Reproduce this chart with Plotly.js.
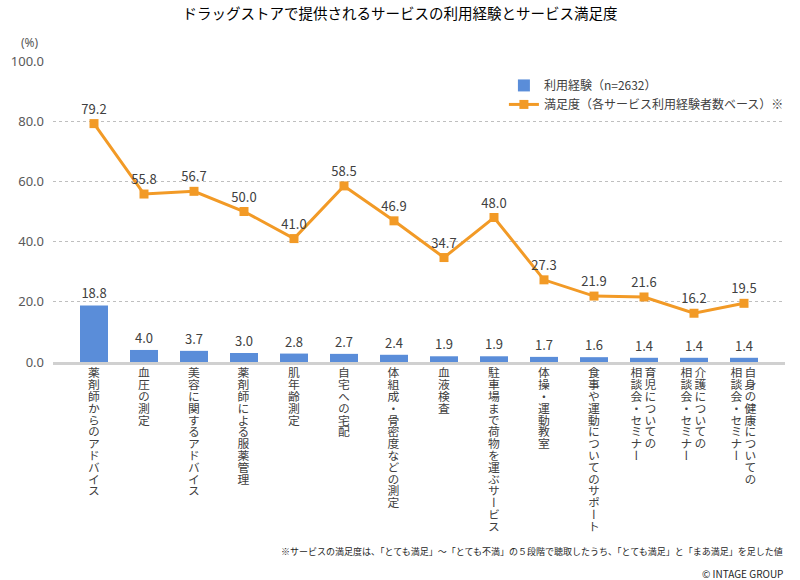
<!DOCTYPE html>
<html>
<head>
<meta charset="utf-8">
<script src="https://cdn.plot.ly/plotly-3.0.1.min.js"></script>
<style>html,body{margin:0;padding:0;background:#fff;}#chart{width:800px;height:580px;}</style>
</head>
<body>
<div id="chart"></div>
<script>
// ---- data ----
const labelLines = [
  ["薬剤師からのアドバイス"],
  ["血圧の測定"],
  ["美容に関するアドバイス"],
  ["薬剤師による服薬管理"],
  ["肌年齢測定"],
  ["自宅への宅配"],
  ["体組成・骨密度などの測定"],
  ["血液検査"],
  ["駐車場まで荷物を運ぶサービス"],
  ["体操・運動教室"],
  ["食事や運動についてのサポート"],
  ["育児についての", "相談会・セミナー"],
  ["介護についての", "相談会・セミナー"],
  ["自身の健康についての", "相談会・セミナー"]
];
const categories = labelLines.map(l => l.join(""));
const experience = [18.8, 4.0, 3.7, 3.0, 2.8, 2.7, 2.4, 1.9, 1.9, 1.7, 1.6, 1.4, 1.4, 1.4];
const satisfaction = [79.2, 55.8, 56.7, 50.0, 41.0, 58.5, 46.9, 34.7, 48.0, 27.3, 21.9, 21.6, 16.2, 19.5];
const seriesNames = ["利用経験（n=2632）", "満足度（各サービス利用経験者数ベース）※"];
const yTicks = [0, 20, 40, 60, 80, 100];
const titleText = "ドラッグストアで提供されるサービスの利用経験とサービス満足度";
const noteText = "※サービスの満足度は、「とても満足」～「とても不満」の５段階で聴取したうち、「とても満足」と「まあ満足」を足した値";
const creditText = "© INTAGE GROUP";

// ---- style ----
const FONT = "'Noto Sans CJK JP', 'Noto Sans', sans-serif";
const NUMFONT = "'Noto Sans', 'Noto Sans CJK JP', sans-serif";
const BLUE = "#5a8dd9";
const ORANGE = "#f29a26";
const TXT = "#404040";

const bars = {
  type: "bar", x: categories, y: experience, name: seriesNames[0],
  marker: {color: BLUE}, width: 0.56,
  text: experience.map(v => v.toFixed(1)), textposition: "outside",
  textfont: {size: 13, color: TXT, family: FONT}, cliponaxis: false,
  hoverinfo: "skip"
};
const line = {
  type: "scatter", mode: "lines+markers+text", x: categories, y: satisfaction, name: seriesNames[1],
  line: {color: ORANGE, width: 3},
  marker: {color: ORANGE, symbol: "square", size: 9},
  text: satisfaction.map(v => v.toFixed(1)), textposition: "top center",
  textfont: {size: 13, color: TXT, family: FONT}, cliponaxis: false,
  hoverinfo: "skip"
};

// vertical category labels: one annotation per text column
const annotations = [];
labelLines.forEach((lines, i) => {
  const n = lines.length;
  lines.forEach((ln, j) => {
    const xs = n === 1 ? 0 : (j === 0 ? 7 : -7);
    annotations.push({
      x: categories[i], xref: "x", y: 0, yref: "paper",
      yanchor: "top", xanchor: "center", yshift: -5, xshift: xs,
      text: ln, showarrow: false, borderpad: 0,
      font: {size: 11.8, color: TXT, family: FONT}
    });
  });
});
const nVertical = annotations.length;
annotations.push({
  x: -0.031, y: 1.06, xref: "paper", yref: "paper", xanchor: "center", yanchor: "middle",
  text: "(%)", showarrow: false, borderpad: 0, font: {size: 12, color: "#595959", family: NUMFONT}
});
annotations.push({
  x: 1, y: -0.628, xref: "paper", yref: "paper", xanchor: "right", yanchor: "middle",
  text: noteText, showarrow: false, font: {size: 9, color: "#262626", family: FONT}
});
annotations.push({
  x: 1, y: -0.701, xref: "paper", yref: "paper", xanchor: "right", yanchor: "middle",
  text: creditText, showarrow: false, font: {size: 10, color: "#262626", family: FONT}
});

const layout = {
  width: 800, height: 580,
  margin: {l: 53, r: 15, t: 61, b: 218, autoexpand: false},
  paper_bgcolor: "#fff", plot_bgcolor: "#fff",
  font: {family: FONT, color: TXT},
  title: {text: titleText, x: 0.5, xref: "container", y: 0.976, yref: "container", yanchor: "middle",
          font: {size: 14.5, color: "#000", family: FONT}},
  showlegend: true,
  legend: {x: 0.616, y: 0.967, xanchor: "left", yanchor: "top", traceorder: "normal",
           font: {size: 12, color: TXT, family: FONT}, bgcolor: "rgba(0,0,0,0)", tracegroupgap: 0},
  xaxis: {type: "category", range: [-0.82, 13.82], showticklabels: false, ticks: "",
          showgrid: false, zeroline: false, showline: true, linecolor: "#d0d0d0", linewidth: 3,
          fixedrange: true},
  yaxis: {range: [0, 100], tickvals: yTicks, tickformat: ".1f", showgrid: true,
          gridcolor: "#bfbfbf", griddash: "dot", gridwidth: 1, zeroline: false, showline: false,
          tickfont: {size: 13, color: "#595959", family: NUMFONT}, ticks: "", ticklabelstandoff: 8,
          fixedrange: true},
  bargap: 0.44,
  annotations: annotations
};

Plotly.newPlot("chart", [bars, line], layout, {displayModeBar: false, staticPlot: true}).then(gd => {
  // turn the category-label annotations into vertical (tategaki) text
  gd.querySelectorAll("g.annotation").forEach(g => {
    const idx = +g.getAttribute("data-index");
    if (!(idx < nVertical)) return;
    const txt = g.querySelector("text.annotation-text");
    const rect = g.querySelector("rect.bg");
    if (!txt || !rect) return;
    const w = +rect.getAttribute("width");
    txt.setAttribute("x", w / 2);
    txt.setAttribute("y", 0);
    txt.setAttribute("text-anchor", "start");
    txt.style.writingMode = "vertical-rl";
    txt.style.textAnchor = "start";
    txt.querySelectorAll("tspan").forEach(t => {
      t.removeAttribute("x"); t.removeAttribute("y"); t.removeAttribute("dy");
    });
  });
});
</script>
</body>
</html>
